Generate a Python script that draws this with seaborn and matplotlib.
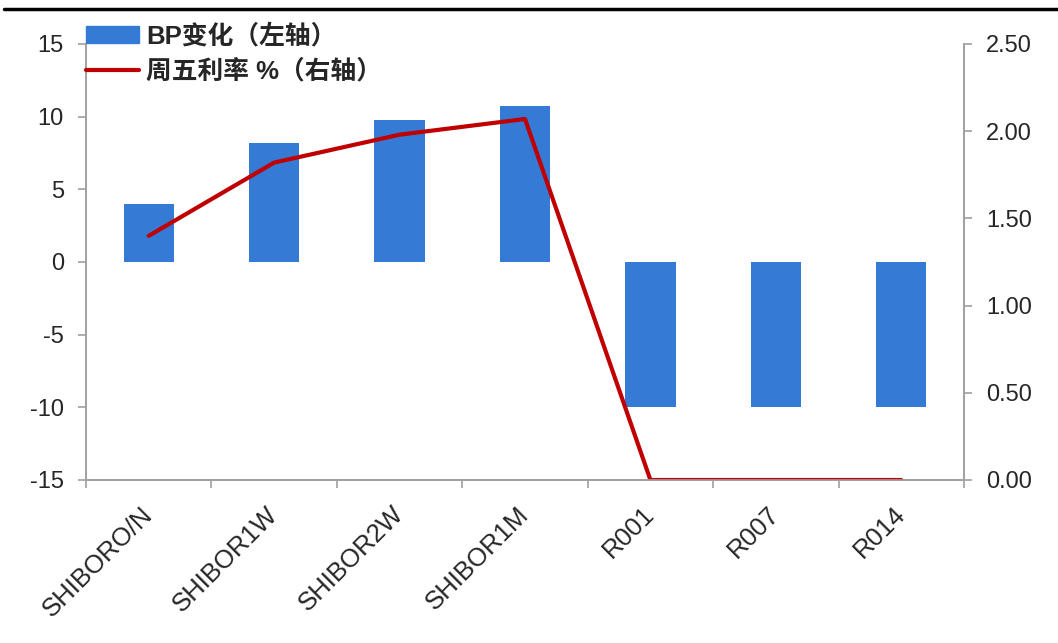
import numpy as np
import pandas as pd
import matplotlib
matplotlib.use("Agg")
import matplotlib.pyplot as plt
from matplotlib.lines import Line2D
from matplotlib.ticker import FixedLocator, FuncFormatter
import seaborn as sns

categories = ["SHIBORO/N", "SHIBOR1W", "SHIBOR2W", "SHIBOR1M", "R001", "R007", "R014"]
bp_change = [4.0, 8.2, 9.8, 10.7, -10.0, -10.0, -10.0]
friday_rate = [1.40, 1.82, 1.98, 2.07, 0.0, 0.0, 0.0]

bar_label = "BP变化（左轴）"
line_label = "周五利率 %（右轴）"

sns.set_theme(style="white")
plt.rcParams["font.family"] = ["Liberation Sans", "Noto Sans CJK SC", "DejaVu Sans"]
plt.rcParams["axes.unicode_minus"] = False

df = pd.DataFrame({"cat": categories, "bp": bp_change, "rate": friday_rate})
df["pos"] = np.arange(len(df))

fig = plt.figure(figsize=(10.58, 6.43), dpi=100)
ax = fig.add_axes([86 / 1058, 1 - 480 / 643, (964 - 86) / 1058, (480 - 44) / 643])

sns.barplot(data=df, x="cat", y="bp", color="#357BD5", saturation=1, width=0.4,
            ax=ax, edgecolor="none")
ax2 = ax.twinx()
sns.lineplot(data=df, x="pos", y="rate", color="#C00000", linewidth=3,
             ax=ax2, legend=False)

ax.set_xlim(-0.5, len(categories) - 0.5)
ax.set_ylim(-15, 15)
ax.set_yticks([-15, -10, -5, 0, 5, 10, 15])
ax2.set_ylim(0, 2.5)
ax2.set_yticks([0, 0.5, 1.0, 1.5, 2.0, 2.5])
ax2.yaxis.set_major_formatter(FuncFormatter(lambda v, p: f"{v:.2f}"))
ax.set_xlabel("")
ax.set_ylabel("")
ax2.set_xlabel("")
ax2.set_ylabel("")

gray = "#A0A0A0"
for a in (ax, ax2):
    a.spines["top"].set_visible(False)
    for s in ("left", "right", "bottom"):
        a.spines[s].set_color(gray)
        a.spines[s].set_linewidth(1.2)

ax.set_xticks(np.arange(len(categories)))
ax.set_xticklabels(categories, rotation=45, ha="right", va="center",
                   rotation_mode="anchor", fontsize=18.5)
ax.xaxis.set_minor_locator(FixedLocator(np.arange(-0.5, len(categories), 1.0)))
ax.tick_params(axis="x", which="major", length=0, pad=22)
ax.tick_params(axis="x", which="minor", length=6, color=gray, width=1.2, direction="out", bottom=True)
ax.tick_params(axis="y", length=6, color=gray, width=1.2, direction="out", left=True, labelsize=17, pad=10)
ax2.tick_params(axis="y", length=6, color=gray, width=1.2, direction="out", right=True, labelsize=17, pad=10)
ax2.tick_params(axis="x", which="both", length=0, labelbottom=False)

handles = [plt.Rectangle((0, 0), 1, 1, color="#357BD5"),
           Line2D([0], [0], color="#C00000", linewidth=3)]
leg = fig.legend(handles, [bar_label, line_label], loc="upper left",
                 bbox_to_anchor=(86 / 1058, 1 - 24 / 643), bbox_transform=fig.transFigure,
                 frameon=False, borderpad=0, borderaxespad=0, handlelength=2.05,
                 handleheight=0.62, handletextpad=0.3, labelspacing=0.4,
                 prop={"family": ["Liberation Sans", "Noto Sans CJK SC"], "weight": "bold", "size": 18.5})

fig.add_artist(Line2D([0.004, 1.0], [1 - 9 / 643, 1 - 9 / 643], color="black",
                      linewidth=2.5, transform=fig.transFigure))

fig.savefig("out.png", dpi=100)
